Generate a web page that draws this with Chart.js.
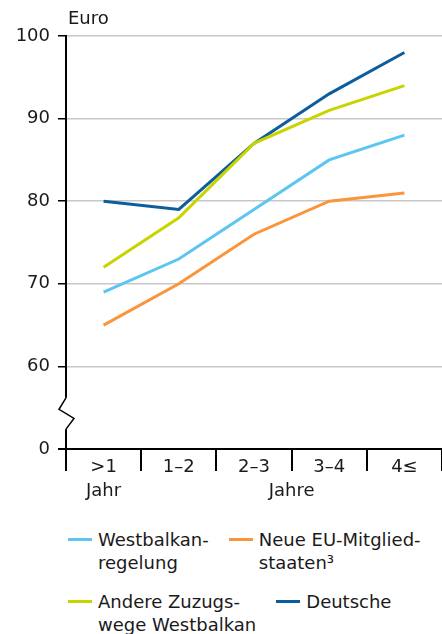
<!DOCTYPE html>
<html>
<head>
<meta charset="utf-8">
<script src="https://cdn.jsdelivr.net/npm/chart.js@4.4.0/dist/chart.umd.min.js"></script>
<style>
  body { margin: 0; background: #fff; font-family: 'DejaVu Sans', sans-serif; color: #1a1a1a; }
  #wrap { position: relative; width: 442px; height: 510px; }
  #legend { position: absolute; left: 68px; top: 528px; font-size: 18px; line-height: 23px; }
  .row { display: flex; gap: 20px; margin-bottom: 16px; }
  .item { display: flex; align-items: flex-start; }
  .swatch { width: 24px; height: 3px; margin-top: 10px; margin-right: 6px; flex: none; }
</style>
</head>
<body>
<div id="wrap"><canvas id="chart" width="442" height="510"></canvas></div>
<div id="legend"></div>
<script>
// Daten
const categories = [['>1', 'Jahr'], '1–2', '2–3', '3–4', '4≤'];
const seriesNames = [['Westbalkan-', 'regelung'], ['Neue EU-Mitglied-', 'staaten³'], ['Andere Zuzugs-', 'wege Westbalkan'], ['Deutsche']];
const westbalkan = [69, 73, 79, 85, 88];
const neueEU = [65, 70, 76, 80, 81];
const andere = [72, 78, 87, 91, 94];
const deutsche = [80, 79, 87, 93, 98];
const yTicks = [50, 60, 70, 80, 90, 100];      // 50 = Achsenursprung unterhalb des Bruchs
const yTickLabels = ['0', '60', '70', '80', '90', '100'];
const yUnit = 'Euro';
const xUnit = 'Jahre';

const colors = ['#5cc6f0', '#f9953a', '#c8d400', '#0b5d9c'];
const seriesData = [westbalkan, neueEU, andere, deutsche];
const FONT = "'DejaVu Sans', sans-serif";
const TEXT = '#1a1a1a';
const LINE_H = 24.3;

// Euro-Beschriftung, "Jahre" und Achsenbruch
const extras = {
  id: 'extras',
  afterDraw(chart) {
    const c = chart.ctx, ys = chart.scales.y, xs = chart.scales.x, a = chart.chartArea;
    c.save();
    c.font = '18px ' + FONT;
    c.fillStyle = TEXT;
    c.textBaseline = 'middle';
    c.textAlign = 'left';
    c.fillText(yUnit, a.left + 2, a.top - 17);
    c.textAlign = 'center';
    c.fillText(xUnit, (xs.getPixelForTick(1) + xs.getPixelForTick(4)) / 2, xs.top + 22 - 16 + LINE_H * 1.5);

    // Achsenbruch
    const x = a.left;
    const y1 = ys.getPixelForValue(56.2), y2 = ys.getPixelForValue(54.8);
    const y3 = ys.getPixelForValue(53.7), y4 = ys.getPixelForValue(52.4);
    c.fillStyle = '#fff';
    c.fillRect(x - 2, y1, 4, y4 - y1);
    c.strokeStyle = '#000';
    c.lineWidth = 1.5;
    c.beginPath();
    c.moveTo(x, y1);
    c.lineTo(x - 7, y2);
    c.lineTo(x + 8, y3);
    c.lineTo(x, y4);
    c.stroke();
    c.restore();
  }
};

const ctx = document.getElementById('chart').getContext('2d');
new Chart(ctx, {
  type: 'line',
  data: {
    labels: categories,
    datasets: seriesData.map((d, i) => ({
      label: seriesNames[i].join(' '),
      data: d,
      borderColor: colors[i],
      backgroundColor: colors[i],
      borderWidth: 3,
      pointRadius: 0,
      tension: 0,
      fill: false
    }))
  },
  options: {
    responsive: false,
    animation: false,
    devicePixelRatio: 1,
    layout: { padding: { top: 36, right: 0, left: 0, bottom: 0 } },
    plugins: { legend: { display: false }, tooltip: { enabled: false } },
    scales: {
      x: {
        type: 'category',
        offset: true,
        afterFit(s) { s.height = 61; },
        grid: { offset: true, drawOnChartArea: false, color: '#000', lineWidth: 2, tickLength: 22 },
        border: { display: true, color: '#000', width: 2 },
        ticks: {
          padding: -16, maxRotation: 0, autoSkip: false, color: TEXT,
          font: { family: FONT, size: 18, lineHeight: LINE_H / 18 }
        }
      },
      y: {
        min: 50,
        max: 100,
        afterFit(s) { s.width = 66; },
        afterBuildTicks(s) { s.ticks = yTicks.map(v => ({ value: v })); },
        grid: {
          color: c => c.tick && c.tick.value === 50 ? '#000' : '#c8c8c8',
          lineWidth: c => c.tick && c.tick.value === 50 ? 2 : 1.5,
          tickColor: '#000',
          tickLength: 8
        },
        border: { display: true, color: '#000', width: 2 },
        ticks: {
          padding: 8, color: TEXT,
          font: { family: FONT, size: 18 },
          callback: v => yTickLabels[yTicks.indexOf(v)]
        }
      }
    }
  },
  plugins: [extras]
});

// Legende (zwei Zeilen, je zwei Einträge)
const legend = document.getElementById('legend');
[[0, 1], [2, 3]].forEach(pair => {
  const row = document.createElement('div');
  row.className = 'row';
  pair.forEach(i => {
    const item = document.createElement('div');
    item.className = 'item';
    const sw = document.createElement('span');
    sw.className = 'swatch';
    sw.style.background = colors[i];
    const txt = document.createElement('span');
    txt.innerHTML = seriesNames[i].join('<br>');
    item.appendChild(sw);
    item.appendChild(txt);
    row.appendChild(item);
  });
  legend.appendChild(row);
});
</script>
</body>
</html>
